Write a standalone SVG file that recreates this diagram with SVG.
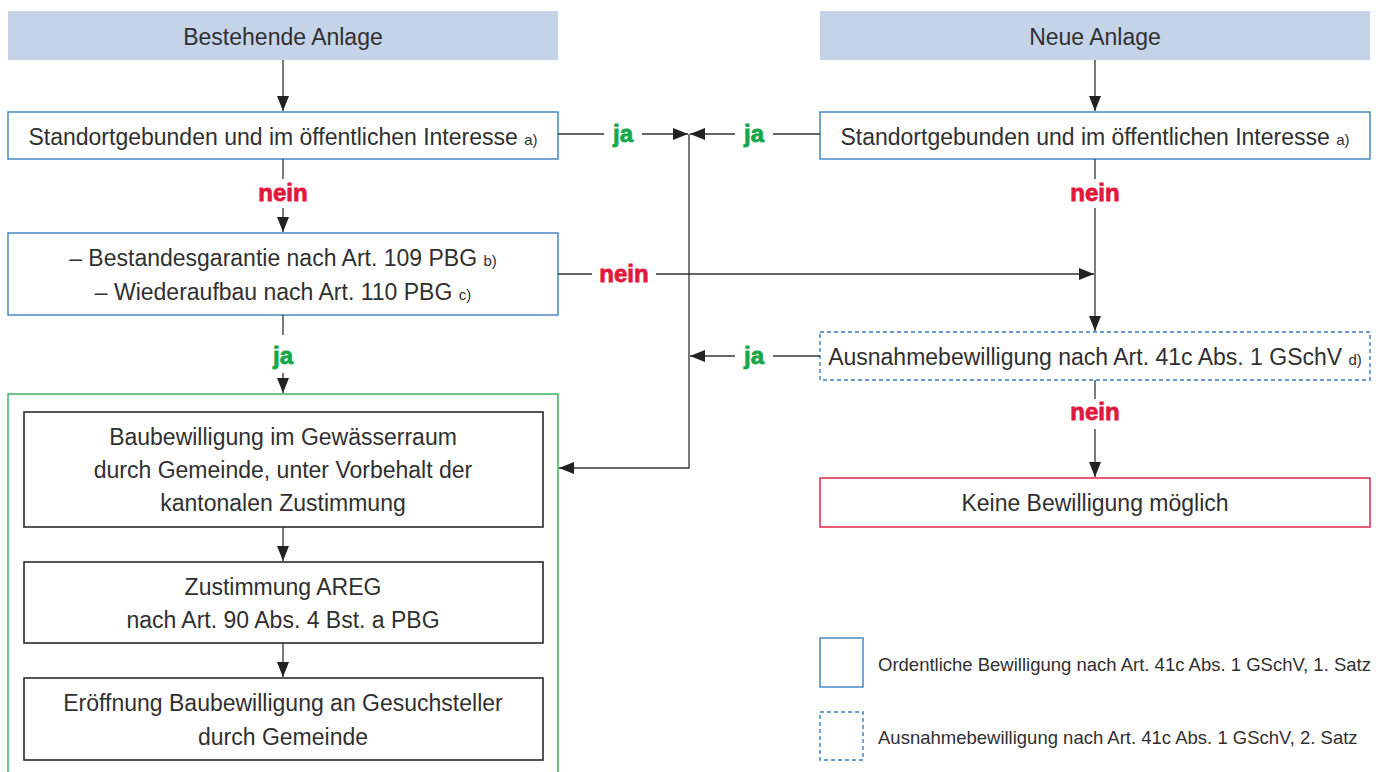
<svg xmlns="http://www.w3.org/2000/svg" width="1383" height="772" viewBox="0 0 1383 772">
<style>
.t{font-family:"Liberation Sans",Arial,sans-serif;font-size:23px;fill:#303030;text-anchor:middle}
.s{font-size:15px}
.lg{font-family:"Liberation Sans",Arial,sans-serif;font-size:18.5px;fill:#303030}
.ja{font-family:"Liberation Sans",Arial,sans-serif;font-size:24px;font-weight:bold;fill:#14a84a;stroke:#14a84a;stroke-width:0.8;text-anchor:middle}
.nein{font-family:"Liberation Sans",Arial,sans-serif;font-size:24px;font-weight:bold;fill:#e2173d;stroke:#e2173d;stroke-width:0.8;text-anchor:middle}
.hd{fill:#c5d3e9}
.bl{fill:#fff;stroke:#3a7fc0;stroke-width:1.4}
.bd{fill:#fff;stroke:#3a7fc0;stroke-width:1.4;stroke-dasharray:4 3}
.rd{fill:#fff;stroke:#e2173d;stroke-width:1.4}
.gr{fill:none;stroke:#2fae55;stroke-width:1.4}
.bk{fill:#fff;stroke:#2b2b2b;stroke-width:1.6}
.c{fill:none;stroke:#333;stroke-width:1.3}
</style>
<defs>
<marker id="ah" viewBox="0 0 15 12" refX="15" refY="6" markerWidth="15" markerHeight="12" markerUnits="userSpaceOnUse" orient="auto">
<path d="M0,0 L15,6 L0,12 z" fill="#222"/>
</marker>
</defs>

<g id="hdr-left"><rect class="hd" x="8" y="11" width="550" height="49"/><text class="t" x="283" y="45">Bestehende Anlage</text></g>
<g id="hdr-right"><rect class="hd" x="820" y="11" width="550" height="49"/><text class="t" x="1095" y="45">Neue Anlage</text></g>

<g id="left-standort"><rect class="bl" x="8" y="112" width="550" height="47"/><text class="t" x="283" y="145">Standortgebunden und im öffentlichen Interesse <tspan class="s">a)</tspan></text></g>
<g id="right-standort"><rect class="bl" x="820" y="112" width="550" height="47"/><text class="t" x="1095" y="145">Standortgebunden und im öffentlichen Interesse <tspan class="s">a)</tspan></text></g>

<g id="left-bestand"><rect class="bl" x="8" y="233" width="550" height="82"/>
<text class="t" x="283" y="266">– Bestandesgarantie nach Art. 109 PBG <tspan class="s">b)</tspan></text>
<text class="t" x="283" y="300">– Wiederaufbau nach Art. 110 PBG <tspan class="s">c)</tspan></text></g>

<g id="right-ausnahme"><rect class="bd" x="820" y="332" width="550" height="48"/><text class="t" x="1095" y="365">Ausnahmebewilligung nach Art. 41c Abs. 1 GSchV <tspan class="s">d)</tspan></text></g>

<g id="keine"><rect class="rd" x="820" y="478" width="550" height="49"/><text class="t" x="1095" y="511">Keine Bewilligung möglich</text></g>

<g id="container"><rect class="gr" x="8" y="394" width="550" height="385"/></g>

<g id="baubew"><rect class="bk" x="24" y="412" width="519" height="115"/>
<text class="t" x="283" y="445">Baubewilligung im Gewässerraum</text>
<text class="t" x="283" y="478">durch Gemeinde, unter Vorbehalt der</text>
<text class="t" x="283" y="511">kantonalen Zustimmung</text></g>

<g id="zustimmung"><rect class="bk" x="24" y="562" width="519" height="81"/>
<text class="t" x="283" y="595">Zustimmung AREG</text>
<text class="t" x="283" y="628">nach Art. 90 Abs. 4 Bst. a PBG</text></g>

<g id="eroeffnung"><rect class="bk" x="24" y="678" width="519" height="82"/>
<text class="t" x="283" y="711">Eröffnung Baubewilligung an Gesuchsteller</text>
<text class="t" x="283" y="745">durch Gemeinde</text></g>

<g id="legend">
<rect class="bl" x="820" y="638" width="43" height="49"/>
<text class="lg" x="878" y="671">Ordentliche Bewilligung nach Art. 41c Abs. 1 GSchV, 1. Satz</text>
<rect class="bd" x="820" y="712" width="43" height="48"/>
<text class="lg" x="878" y="744">Ausnahmebewilligung nach Art. 41c Abs. 1 GSchV, 2. Satz</text>
</g>

<g id="connectors">
<line class="c" x1="283" y1="60" x2="283" y2="111" marker-end="url(#ah)"/>
<line class="c" x1="1095" y1="60" x2="1095" y2="111" marker-end="url(#ah)"/>
<line class="c" x1="283" y1="159" x2="283" y2="179"/>
<line class="c" x1="283" y1="208" x2="283" y2="232" marker-end="url(#ah)"/>
<line class="c" x1="558" y1="134" x2="604" y2="134"/>
<line class="c" x1="642" y1="134" x2="688" y2="134" marker-end="url(#ah)"/>
<line class="c" x1="820" y1="134" x2="773" y2="134"/>
<line class="c" x1="735" y1="134" x2="690" y2="134" marker-end="url(#ah)"/>
<polyline class="c" points="689,134 689,468 559,468" marker-end="url(#ah)"/>
<line class="c" x1="558" y1="274" x2="592" y2="274"/>
<line class="c" x1="656" y1="274" x2="1094" y2="274" marker-end="url(#ah)"/>
<line class="c" x1="1095" y1="159" x2="1095" y2="179"/>
<line class="c" x1="1095" y1="208" x2="1095" y2="331" marker-end="url(#ah)"/>
<line class="c" x1="820" y1="356" x2="773" y2="356"/>
<line class="c" x1="735" y1="356" x2="690" y2="356" marker-end="url(#ah)"/>
<line class="c" x1="1095" y1="380" x2="1095" y2="399"/>
<line class="c" x1="1095" y1="429" x2="1095" y2="477" marker-end="url(#ah)"/>
<line class="c" x1="283" y1="315" x2="283" y2="335"/>
<line class="c" x1="283" y1="373" x2="283" y2="393" marker-end="url(#ah)"/>
<line class="c" x1="283" y1="527" x2="283" y2="561" marker-end="url(#ah)"/>
<line class="c" x1="283" y1="643" x2="283" y2="677" marker-end="url(#ah)"/>
<text class="ja" x="623" y="142">ja</text>
<text class="ja" x="754" y="142">ja</text>
<text class="ja" x="754" y="364">ja</text>
<text class="ja" x="283" y="364">ja</text>
<text class="nein" x="283" y="201">nein</text>
<text class="nein" x="1095" y="201">nein</text>
<text class="nein" x="624" y="282">nein</text>
<text class="nein" x="1095" y="420">nein</text>
</g>
</svg>
